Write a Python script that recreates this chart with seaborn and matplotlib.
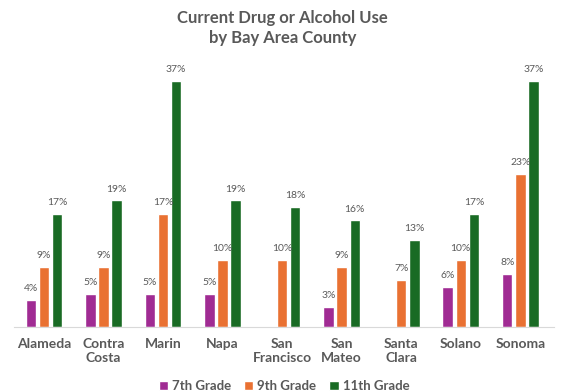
import numpy as np
import pandas as pd
import matplotlib
matplotlib.use("Agg")
import matplotlib.pyplot as plt
import seaborn as sns

# === Data ===
counties = ["Alameda", "Contra\nCosta", "Marin", "Napa", "San\nFrancisco",
            "San\nMateo", "Santa\nClara", "Solano", "Sonoma"]
grade7 = [4, 5, 5, 5, np.nan, 3, np.nan, 6, 8]
grade9 = [9, 9, 17, 10, 10, 9, 7, 10, 23]
grade11 = [17, 19, 37, 19, 18, 16, 13, 17, 37]
grades = ["7th Grade", "9th Grade", "11th Grade"]
colors = ["#A02B93", "#E97132", "#196B24"]

df = pd.DataFrame({"county": counties, grades[0]: grade7,
                   grades[1]: grade9, grades[2]: grade11})
long = df.melt(id_vars="county", var_name="grade", value_name="pct")

# === Plot ===
sns.set_style("white")
plt.rcParams["font.family"] = ["Lato", "DejaVu Sans"]
grey = "#595959"

fig = plt.figure(figsize=(5.65, 3.92), dpi=100)
ax = fig.add_axes([0.025, 0.166, 0.955, 0.679])

sns.barplot(data=long, x="county", y="pct", hue="grade", hue_order=grades,
            palette=colors, saturation=1, width=0.66, gap=0.2, ax=ax,
            legend=True)

for cont in ax.containers:
    labels = ["" if np.isnan(v) else f"{v:.0f}%" for v in cont.datavalues]
    ax.bar_label(cont, labels=labels, padding=5, fontsize=7.5, color=grey)

ax.set_ylim(0, 40)
ax.set_xlim(-0.5, 8.56)
ax.set_xlabel("")
ax.set_ylabel("")
ax.set_yticks([])
for s in ["top", "right", "left"]:
    ax.spines[s].set_visible(False)
ax.spines["bottom"].set_color("#D9D9D9")
ax.tick_params(axis="x", length=0, pad=8)
for t in ax.get_xticklabels():
    t.set_fontsize(10)
    t.set_fontweight("bold")
    t.set_color(grey)
    t.set_linespacing(1.2)

fig.suptitle("Current Drug or Alcohol Use\nby Bay Area County", y=0.975,
             fontsize=12, fontweight="bold", color=grey, linespacing=1.3)

ax.legend(loc="lower center", bbox_to_anchor=(0.5, -0.29), ncol=3,
          frameon=False, handlelength=0.7, handleheight=0.7,
          handletextpad=0.3, columnspacing=1.0,
          prop={"weight": "bold", "size": 9.5}, labelcolor=grey)

fig.savefig("out.png", dpi=100)
